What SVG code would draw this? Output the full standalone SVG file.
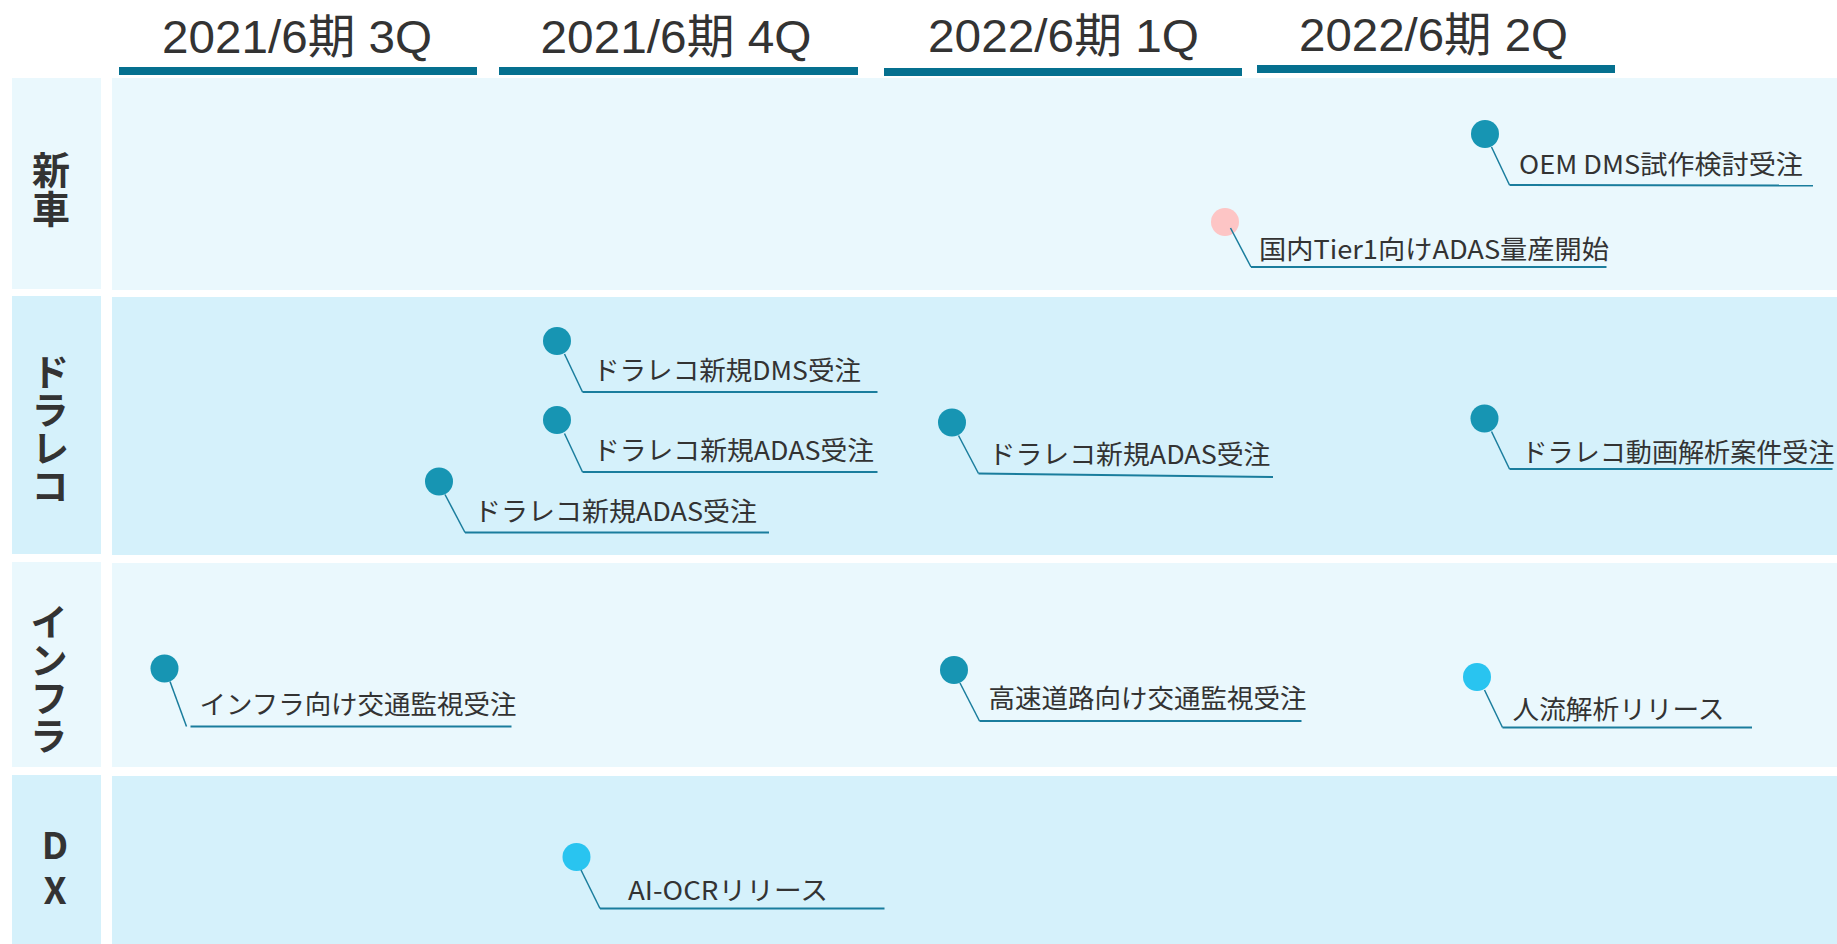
<svg xmlns="http://www.w3.org/2000/svg" width="1837" height="944" viewBox="0 0 1837 944">
<style>
.bg{fill:#ffffff}
.lane-a{fill:#EAF8FD}
.lane-b{fill:#D5F1FB}
.bar{fill:#05708F}
.hdr{font-family:"Liberation Sans","Noto Sans CJK JP",sans-serif;font-size:47px;fill:#333333}
.lbl{font-family:"Noto Sans CJK JP","Liberation Sans",sans-serif;font-weight:700;font-size:38px;fill:#333333;writing-mode:vertical-rl;text-orientation:upright}
.ev{font-family:"Noto Sans CJK JP","Liberation Sans",sans-serif;font-size:26px;fill:#333333}
.lead{stroke:#1A7D9D;stroke-width:1.5;fill:none}
.under{stroke:#1A7D9D;stroke-width:2;fill:none}
.c-teal{fill:#1795B3}
.c-sky{fill:#29C4F0}
.c-pink{fill:#FDC5C5}
</style>
<rect class="bg" x="0" y="0" width="1837" height="944"/>

<g id="header">
  <rect class="bar" x="119" y="67" width="358" height="8"/>
  <rect class="bar" x="499" y="67" width="359" height="8"/>
  <rect class="bar" x="884" y="68" width="358" height="8"/>
  <rect class="bar" x="1257" y="65" width="358" height="8"/>
  <text class="hdr" x="162" y="52.5" textLength="270" lengthAdjust="spacingAndGlyphs">2021/6期 3Q</text>
  <text class="hdr" x="540.5" y="52.5" textLength="271" lengthAdjust="spacingAndGlyphs">2021/6期 4Q</text>
  <text class="hdr" x="928" y="52" textLength="271" lengthAdjust="spacingAndGlyphs">2022/6期 1Q</text>
  <text class="hdr" x="1299" y="50.5" textLength="269" lengthAdjust="spacingAndGlyphs">2022/6期 2Q</text>
</g>

<g id="lanes">
  <g id="lane-shinsha">
    <rect class="lane-a" x="12" y="78" width="89" height="211"/>
    <rect class="lane-a" x="112" y="78" width="1725" height="212"/>
    <text class="lbl" x="51" y="151" letter-spacing="0.5">新車</text>
  </g>
  <g id="lane-dorareko">
    <rect class="lane-b" x="12" y="296" width="89" height="258"/>
    <rect class="lane-b" x="112" y="297" width="1725" height="258"/>
    <text class="lbl" x="50.5" y="353" letter-spacing="-0.3">ドラレコ</text>
  </g>
  <g id="lane-infra">
    <rect class="lane-a" x="12" y="562" width="89" height="205"/>
    <rect class="lane-a" x="112" y="563" width="1725" height="204"/>
    <text class="lbl" x="49" y="603" letter-spacing="-0.3">インフラ</text>
  </g>
  <g id="lane-dx">
    <rect class="lane-b" x="12" y="775" width="89" height="169"/>
    <rect class="lane-b" x="112" y="776" width="1725" height="168"/>
    <text class="lbl" x="55" y="826.5" letter-spacing="8" style="font-size:37px">DX</text>
  </g>
</g>

<g id="events">
  <g id="ev-oem-dms">
    <circle class="c-teal" cx="1485" cy="134" r="14"/>
    <text class="ev" x="1519" y="174" textLength="284" lengthAdjust="spacingAndGlyphs">OEM DMS試作検討受注</text>
  </g>
  <g id="ev-tier1-adas">
    <circle class="c-pink" cx="1225" cy="222" r="14"/>
    <text class="ev" x="1259" y="258.5" textLength="350" lengthAdjust="spacingAndGlyphs">国内Tier1向けADAS量産開始</text>
  </g>
  <g id="ev-dr-dms">
    <circle class="c-teal" cx="557" cy="341" r="14"/>
    <text class="ev" x="593" y="379.5" textLength="268" lengthAdjust="spacingAndGlyphs">ドラレコ新規DMS受注</text>
  </g>
  <g id="ev-dr-adas-4q">
    <circle class="c-teal" cx="557" cy="420" r="14"/>
    <text class="ev" x="593" y="460" textLength="281" lengthAdjust="spacingAndGlyphs">ドラレコ新規ADAS受注</text>
  </g>
  <g id="ev-dr-adas-3q">
    <circle class="c-teal" cx="439" cy="481.5" r="14"/>
    <text class="ev" x="474" y="520.5" textLength="283" lengthAdjust="spacingAndGlyphs">ドラレコ新規ADAS受注</text>
  </g>
  <g id="ev-dr-adas-1q">
    <circle class="c-teal" cx="952" cy="422.5" r="14"/>
    <text class="ev" x="988.5" y="463.5" textLength="282" lengthAdjust="spacingAndGlyphs">ドラレコ新規ADAS受注</text>
  </g>
  <g id="ev-dr-video">
    <circle class="c-teal" cx="1484.5" cy="418.5" r="14"/>
    <text class="ev" x="1521.5" y="461.5" textLength="313" lengthAdjust="spacingAndGlyphs">ドラレコ動画解析案件受注</text>
  </g>
  <g id="ev-infra-traffic">
    <circle class="c-teal" cx="164.5" cy="668.5" r="14"/>
    <text class="ev" x="199.5" y="714" textLength="317" lengthAdjust="spacingAndGlyphs">インフラ向け交通監視受注</text>
  </g>
  <g id="ev-highway">
    <circle class="c-teal" cx="954" cy="670" r="14"/>
    <text class="ev" x="988.5" y="707.5" textLength="318" lengthAdjust="spacingAndGlyphs">高速道路向け交通監視受注</text>
  </g>
  <g id="ev-people-flow">
    <circle class="c-sky" cx="1477" cy="677" r="14"/>
    <text class="ev" x="1512.5" y="718.5" textLength="212" lengthAdjust="spacingAndGlyphs">人流解析リリース</text>
  </g>
  <g id="ev-ai-ocr">
    <circle class="c-sky" cx="576.5" cy="857" r="14"/>
    <text class="ev" x="628" y="899.5" textLength="200" lengthAdjust="spacingAndGlyphs">AI-OCRリリース</text>
  </g>
</g>

<g id="connectors">
  <polyline class="lead" points="1491.5,147 1509.5,185"/>
  <line class="under" x1="1509.5" y1="185" x2="1813" y2="185.5"/>
  <polyline class="lead" points="1230.5,228 1251,267"/>
  <line class="under" x1="1251" y1="267" x2="1606.5" y2="267"/>
  <polyline class="lead" points="564.5,354 582.5,392"/>
  <line class="under" x1="582.5" y1="392" x2="877.5" y2="392"/>
  <polyline class="lead" points="564.5,433.5 582.5,472"/>
  <line class="under" x1="582.5" y1="472" x2="877.5" y2="472"/>
  <polyline class="lead" points="445,494.5 465,532.5"/>
  <line class="under" x1="465" y1="532.5" x2="769" y2="532.5"/>
  <polyline class="lead" points="958.5,435.5 978.5,473.5"/>
  <line class="under" x1="978.5" y1="473.5" x2="1273" y2="477"/>
  <polyline class="lead" points="1491.5,431.5 1509.5,469"/>
  <line class="under" x1="1509.5" y1="469" x2="1832.5" y2="469"/>
  <polyline class="lead" points="170,681.5 186.5,726.5"/>
  <line class="under" x1="190.5" y1="726.5" x2="511.5" y2="726.5"/>
  <polyline class="lead" points="960,683 979.5,721"/>
  <line class="under" x1="979.5" y1="721" x2="1301.5" y2="721"/>
  <polyline class="lead" points="1484.5,690 1502.5,727.5"/>
  <line class="under" x1="1502.5" y1="727.5" x2="1752" y2="727.5"/>
  <polyline class="lead" points="581,870 600,908.5"/>
  <line class="under" x1="600" y1="908.5" x2="884.5" y2="908.5"/>
</g>
</svg>
